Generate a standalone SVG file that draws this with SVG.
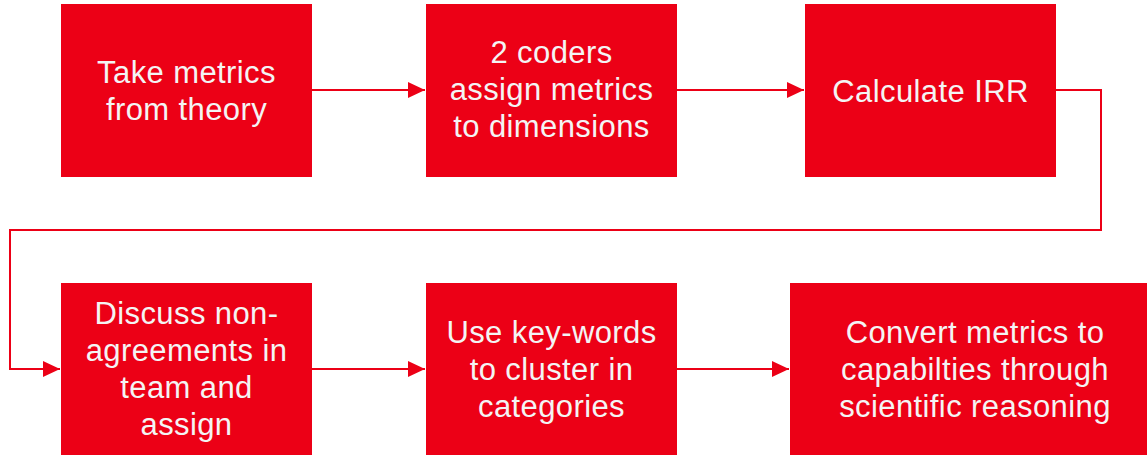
<svg xmlns="http://www.w3.org/2000/svg" width="1147" height="455" viewBox="0 0 1147 455">
<style>
.box{fill:#EC0016}
.t{font-family:"Liberation Sans",Arial,sans-serif;font-size:31px;letter-spacing:0.4px;fill:#F4F4F4;text-anchor:middle}
.c{fill:none;stroke:#EC0016;stroke-width:2}
</style>
<defs>
<marker id="ah" markerUnits="userSpaceOnUse" markerWidth="17" markerHeight="16" refX="17" refY="8" orient="auto">
<path d="M0,0 L17,8 L0,16 Z" fill="#EC0016"/>
</marker>
</defs>
<rect width="1147" height="455" fill="#fff"/>
<g id="connectors">
<path class="c" d="M312,90 H425" marker-end="url(#ah)"/>
<path class="c" d="M677,90 H804" marker-end="url(#ah)"/>
<path class="c" d="M1056,90 H1101 V230 H10 V369 H60" marker-end="url(#ah)"/>
<path class="c" d="M312,369 H425" marker-end="url(#ah)"/>
<path class="c" d="M677,369 H789" marker-end="url(#ah)"/>
</g>
<g id="n1"><rect class="box" x="61" y="4" width="251" height="173"/>
<text class="t" x="186.5" y="83">Take metrics</text><text class="t" x="186.5" y="120">from theory</text></g>
<g id="n2"><rect class="box" x="426" y="4" width="251" height="173"/>
<text class="t" x="551.5" y="63">2 coders</text><text class="t" x="551.5" y="100">assign metrics</text><text class="t" x="551.5" y="137">to dimensions</text></g>
<g id="n3"><rect class="box" x="805" y="4" width="251" height="173"/>
<text class="t" x="930.5" y="102">Calculate IRR</text></g>
<g id="n4"><rect class="box" x="61" y="283" width="251" height="172"/>
<text class="t" x="186.5" y="324">Discuss non-</text><text class="t" x="186.5" y="361">agreements in</text><text class="t" x="186.5" y="398">team and</text><text class="t" x="186.5" y="435">assign</text></g>
<g id="n5"><rect class="box" x="426" y="283" width="251" height="172"/>
<text class="t" x="551.5" y="343">Use key-words</text><text class="t" x="551.5" y="380">to cluster in</text><text class="t" x="551.5" y="417">categories</text></g>
<g id="n6"><rect class="box" x="790" y="283" width="357" height="172"/>
<text class="t" x="975" y="343">Convert metrics to</text><text class="t" x="975" y="380">capabilties through</text><text class="t" x="975" y="417">scientific reasoning</text></g>
</svg>
